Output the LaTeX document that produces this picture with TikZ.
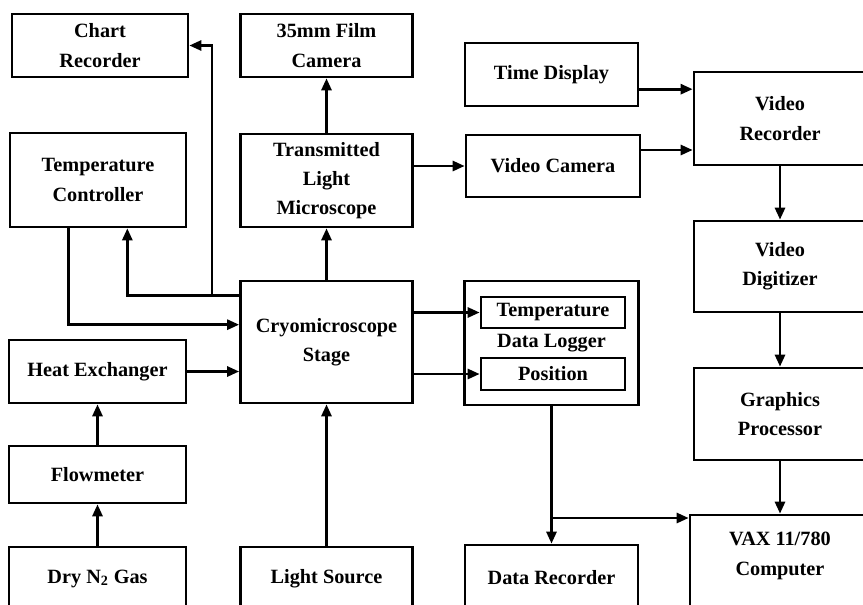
\documentclass[tikz,border=0pt]{standalone}
\usepackage{fontspec}
\setmainfont{Liberation Serif}
\usetikzlibrary{positioning,arrows.meta}

\begin{document}
\begin{tikzpicture}[x=0.75pt, y=-0.75pt,
  every node/.style={font=\bfseries\fontsize{15.2}{22}\selectfont, align=center},
  blk/.style={draw, rectangle, line width=2pt, inner sep=0pt},
  arr/.style={line width=2pt, -{Triangle[length=9pt,width=7.5pt]}}]
  \useasboundingbox (0,0) rectangle (863,604);
  \clip (0,0) rectangle (863,604);

  % Blocks
  \node[blk, minimum width=132pt, minimum height=47.25pt] (Chart) at (100,45.5) {Chart\\Recorder};
  \node[blk, minimum width=132pt, minimum height=70.5pt] (TempCtl) at (98,180) {Temperature\\Controller};
  \node[blk, minimum width=132.75pt, minimum height=47.25pt] (HeatEx) at (97.5,371.5) {Heat Exchanger};
  \node[blk, minimum width=132.75pt, minimum height=42.75pt] (Flow) at (97.5,474.5) {Flowmeter};
  \node[blk, minimum width=132.75pt, minimum height=47.25pt] (DryGas) at (97.5,578.5) {Dry N\textsubscript{2} Gas};
  \node[blk, minimum width=129pt, minimum height=47.25pt] (Film) at (326.5,45.5) {35mm Film\\Camera};
  \node[blk, minimum width=129pt, minimum height=69.75pt] (Micro) at (326.5,180.5) {Transmitted\\Light\\Microscope};
  \node[blk, minimum width=129pt, minimum height=91.5pt] (Stage) at (326.5,342) {Cryomicroscope\\Stage};
  \node[blk, minimum width=129pt, minimum height=47.25pt] (Light) at (326.5,578.5) {Light Source};
  \node[blk, minimum width=129.75pt, minimum height=47.25pt] (TimeDisp) at (551.5,74.5) {Time Display};
  \node[blk, minimum width=130.5pt, minimum height=46.5pt] (VidCam) at (553,166) {Video Camera};
  \node[blk, minimum width=130.5pt, minimum height=93pt] (Logger) at (551.5,343) {Data Logger};
  \node[blk, minimum width=108pt, minimum height=23.25pt] (LogTemp) at (553,312.5) {Temperature};
  \node[blk, minimum width=108pt, minimum height=24pt] (LogPos) at (553,374) {Position};
  \node[blk, minimum width=129.75pt, minimum height=48.75pt] (DataRec) at (551.5,577.5) {Data Recorder};
  \node[blk, minimum width=129pt, minimum height=69.75pt] (VidRec) at (780,118.5) {Video\\Recorder};
  \node[blk, minimum width=129pt, minimum height=68.25pt] (VidDig) at (780,266.5) {Video\\Digitizer};
  \node[blk, minimum width=129pt, minimum height=69pt] (Graph) at (780,414) {Graphics\\Processor};
  \node[blk, minimum width=135pt, minimum height=75pt] (VAX) at (780,565) {};
  \node (VAXtxt) at (780,556) {VAX 11/780\\Computer};

  % Junctions
  \coordinate (Tap) at (212,295);
  \coordinate (Split) at (551.5,518);
  \coordinate (TDout) at ([yshift=-11pt]TimeDisp.east);
  \coordinate (VCout) at ([yshift=12pt]VidCam.east);

  % Connections
  \draw[arr] (Micro) -- (Film);
  \draw[arr] (Stage) -- (Micro);
  \draw[arr] (Light) -- (Stage);
  \draw[arr] (DryGas) -- (Flow);
  \draw[arr] (Flow) -- (HeatEx);
  \draw[arr] (HeatEx) -- (HeatEx -| Stage.west);
  \draw[arr] ([xshift=-22pt]TempCtl.south) |- ([yshift=13pt]Stage.west);
  \draw[arr] ([yshift=35pt]Stage.west) -| ([xshift=22pt]TempCtl.south);
  \draw[arr] (Tap) |- (Chart);
  \draw[arr] (Micro.east |- VidCam) -- (VidCam);
  \draw[arr] (TDout) -- (TDout -| VidRec.west);
  \draw[arr] (VCout) -- (VCout -| VidRec.west);
  \draw[arr] (VidRec) -- (VidDig);
  \draw[arr] (VidDig) -- (Graph);
  \draw[arr] (Graph) -- (VAX);
  \draw[arr] (LogTemp -| Stage.east) -- (LogTemp);
  \draw[arr] (LogPos -| Stage.east) -- (LogPos);
  \draw[arr] (Logger) -- (DataRec);
  \draw[arr] (Split) -- (Split -| VAX.west);
\end{tikzpicture}
\end{document}
